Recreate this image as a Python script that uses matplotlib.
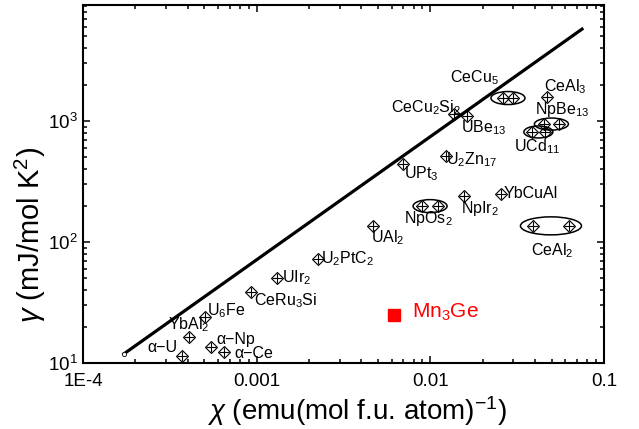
# -*- coding: utf-8 -*-
import matplotlib.pyplot as plt
from matplotlib.patches import Ellipse
from matplotlib import transforms
from matplotlib.ticker import FixedLocator, FixedFormatter, NullFormatter

plt.rcParams["font.family"] = "Liberation Sans"
plt.rcParams["mathtext.fontset"] = "custom"
plt.rcParams["mathtext.rm"] = "Liberation Sans"
plt.rcParams["mathtext.it"] = "Liberation Sans:italic"

# single compounds: susceptibility chi (emu/mol) and Sommerfeld gamma (mJ/mol K^2)
names = [
    "α−U", "YbAl$_2$", "U$_6$Fe", "α−Np", "α−Ce", "CeRu$_3$Si", "UIr$_2$",
    "U$_2$PtC$_2$", "UAl$_2$", "UPt$_3$", "U$_2$Zn$_{17}$", "CeCu$_2$Si$_2$",
    "UBe$_{13}$", "NpIr$_2$", "YbCuAl", "CeAl$_3$",
]
chi = [
    3.72e-4, 4.08e-4, 5.04e-4, 5.46e-4, 6.48e-4, 9.27e-4, 1.31e-3,
    2.25e-3, 4.67e-3, 6.95e-3, 0.0123, 0.0137,
    0.0163, 0.0156, 0.0255, 0.0469,
]
gamma = [
    11.4, 16.4, 24.0, 13.6, 12.3, 38.6, 50.4,
    72.4, 135, 441, 514, 1143,
    1100, 240, 249, 1578,
]

# compounds with two reported chi values (circled)
pair_names = ["NpOs$_2$", "CeCu$_5$", "NpBe$_{13}$", "UCd$_{11}$", "CeAl$_2$"]
pair_chi = [
    (8.95e-3, 0.0111),
    (0.0262, 0.0299),
    (0.0451, 0.0550),
    (0.0384, 0.0457),
    (0.0390, 0.0628),
]
pair_gamma = [198, 1549, 944, 812, 136]

# Wilson ratio reference line
line_chi = [1.72e-4, 0.0747]
line_gamma = [11.9, 5750]

# this work
mn3ge_chi = 6.17e-3
mn3ge_gamma = 25.0

# label offsets in pixels (dx, dy) from the marker / ellipse centre
label_offsets = {
    "α−U": (-20, 9), "YbAl$_2$": (0, 12), "U$_6$Fe": (21, 6),
    "α−Np": (25, 7), "α−Ce": (30, -1), "CeRu$_3$Si": (35, -9),
    "UIr$_2$": (20, 0), "U$_2$PtC$_2$": (30, 0), "UAl$_2$": (15, -11),
    "UPt$_3$": (18, -10), "U$_2$Zn$_{17}$": (26, -4),
    "CeCu$_2$Si$_2$": (-28, 6), "UBe$_{13}$": (16, -12),
    "NpIr$_2$": (16, -12), "YbCuAl": (30, 1), "CeAl$_3$": (18, 10),
    "NpOs$_2$": (-2, -12), "CeCu$_5$": (-34, 20), "NpBe$_{13}$": (11, 15),
    "UCd$_{11}$": (-1, -15), "CeAl$_2$": (1, -25),
}
# ellipse sizes in pixels
ellipse_px = [(34, 13), (34, 13), (34, 12), (29, 12), (61, 18)]

fig = plt.figure(figsize=(6.39, 4.29), dpi=100)
ax = fig.add_axes([83 / 639, 66 / 429, 521 / 639, 358 / 429])
ax.set_xscale("log")
ax.set_yscale("log")
ax.set_xlim(1e-4, 0.1)
ax.set_ylim(10, 9100)

px = 0.72  # points per pixel at 100 dpi


def cross_diamond(x, y):
    ax.plot(x, y, "D", ms=6.0, mfc="none", mec="k", mew=0.8, ls="none")
    ax.plot(x, y, "+", ms=7.8, mec="k", mew=0.8, ls="none")


def label(text, x, y, size=11.5, color="k"):
    dx, dy = label_offsets[text]
    ax.annotate(text, xy=(x, y), xytext=(dx * px, dy * px),
                textcoords="offset points", ha="center", va="center",
                fontsize=size, color=color)


ax.plot(line_chi, line_gamma, color="k", lw=2.3)
ax.plot(line_chi[0], line_gamma[0], "o", ms=3, mfc="white", mec="k", mew=0.6)

for n, x, y in zip(names, chi, gamma):
    cross_diamond(x, y)
    label(n, x, y)

for n, xs, y, (w, h) in zip(pair_names, pair_chi, pair_gamma, ellipse_px):
    cross_diamond(list(xs), [y, y])
    xc = (xs[0] * xs[1]) ** 0.5
    tr = fig.dpi_scale_trans + transforms.ScaledTranslation(xc, y, ax.transData)
    ax.add_patch(Ellipse((0, 0), w / 100, h / 100, transform=tr,
                         fill=False, ec="k", lw=1.1))
    label(n, xc, y)

ax.plot(mn3ge_chi, mn3ge_gamma, "s", ms=9, color="red")
ax.annotate("Mn$_3$Ge", xy=(mn3ge_chi, mn3ge_gamma), xytext=(51 * px, 3 * px),
            textcoords="offset points", ha="center", va="center",
            fontsize=15, color="red")

ax.xaxis.set_major_locator(FixedLocator([1e-4, 1e-3, 1e-2, 1e-1]))
ax.xaxis.set_major_formatter(FixedFormatter(["1E-4", "0.001", "0.01", "0.1"]))
ax.xaxis.set_minor_formatter(NullFormatter())
ax.yaxis.set_minor_formatter(NullFormatter())
ax.tick_params(which="both", direction="in", top=True, right=True,
               labelsize=13.5, width=1.1)
ax.tick_params(which="major", length=5)
ax.tick_params(which="minor", length=2.8)
ax.tick_params(axis="x", pad=7)
for sp in ax.spines.values():
    sp.set_linewidth(1.5)

ax.set_xlabel(r"$\chi$ (emu(mol f.u. atom)$^{-1}$)", fontsize=20, va="center")
ax.xaxis.set_label_coords(0.526, -0.134)
ax.set_ylabel(r"$\gamma$ (mJ/mol K$^2$)", fontsize=21, va="center")
ax.yaxis.set_label_coords(-0.1, 0.358)

fig.savefig("out.png", dpi=100)
